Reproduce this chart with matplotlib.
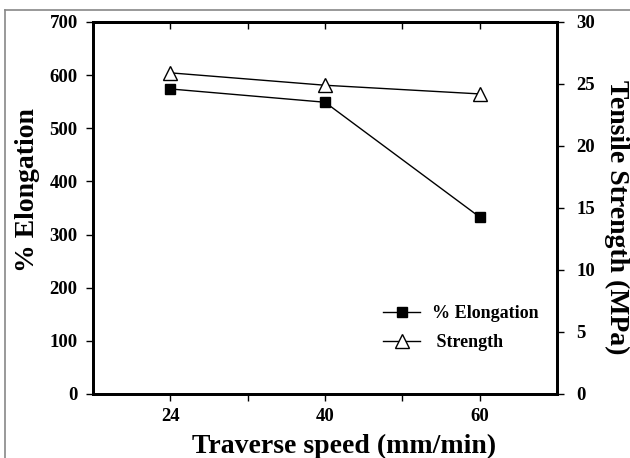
import matplotlib
matplotlib.use("Agg")
import matplotlib.pyplot as plt
from matplotlib.lines import Line2D

speeds = ["24", "40", "60"]
elongation = [574, 549, 333]
strength = [25.9, 24.9, 24.2]
left_ticks = [0, 100, 200, 300, 400, 500, 600, 700]
right_ticks = [0, 5, 10, 15, 20, 25, 30]

plt.rcParams['font.family'] = ['Liberation Serif', 'DejaVu Serif']
plt.rcParams['font.weight'] = 'bold'

W, H = 630, 458
fig = plt.figure(figsize=(6.3, 4.58), dpi=100)
ax = fig.add_axes([93 / W, 1 - 394 / H, 464 / W, 372 / H])
ax2 = ax.twinx()

pos = [1, 3, 5]
l1, = ax.plot(pos, elongation, color='black', lw=1.0, marker='s', ms=7.5,
              mfc='black', mec='black', label='% Elongation')
l2, = ax2.plot(pos, strength, color='black', lw=1.0, marker='^', ms=9.5,
               mfc='white', mec='black', mew=1.0, label=' Strength')

ax.set_xlim(0, 6)
ax.set_ylim(0, 700)
ax2.set_ylim(0, 30)
ax.set_xticks(pos)
ax.set_xticklabels(speeds)
ax.set_xticks([2, 4], minor=True)
ax.set_yticks(left_ticks)
ax2.set_yticks(right_ticks)

for a in (ax, ax2):
    for s in a.spines.values():
        s.set_linewidth(2.0)

ax.tick_params(axis='x', which='both', direction='out', length=5, width=1,
               labelsize=13.5, pad=5)
ax.tick_params(axis='y', direction='out', length=5, width=1, labelsize=13.5, pad=6)
ax2.tick_params(axis='y', direction='out', length=5, width=1, labelsize=13.5, pad=9)
for lab in ax.get_xticklabels() + ax.get_yticklabels() + ax2.get_yticklabels():
    lab.set_fontweight('bold')

sec = ax.secondary_xaxis('top')
sec.set_xticks([1, 2, 3, 4, 5])
sec.tick_params(direction='in', length=5, width=1, labeltop=False)
sec.spines['top'].set_linewidth(2.0)

fig.text(344 / W, 1 - 446 / H, 'Traverse speed (mm/min)', fontsize=20,
         fontweight='bold', ha='center', va='center')
fig.text(28 / W, 1 - 190 / H, '% Elongation', fontsize=20, fontweight='bold',
         rotation=90, ha='center', va='center')
fig.text(617 / W, 1 - 217 / H, 'Tensile Strength (MPa)', fontsize=20,
         fontweight='bold', rotation=270, ha='center', va='center')

leg = fig.legend(handles=[l1, l2], loc='center left',
                 bbox_to_anchor=(383 / W, 1 - 328 / H),
                 bbox_transform=fig.transFigure, borderaxespad=0, borderpad=0,
                 frameon=False, handlelength=2.05, handletextpad=0.65,
                 labelspacing=0.67, prop={'weight': 'bold', 'size': 13})

fig.add_artist(Line2D([5 / W, 5 / W], [0, 1 - 10 / H], color='#888888', lw=1.2))
fig.add_artist(Line2D([5 / W, 1], [1 - 10 / H, 1 - 10 / H], color='#888888', lw=1.2))

fig.savefig('out.png', dpi=100)
